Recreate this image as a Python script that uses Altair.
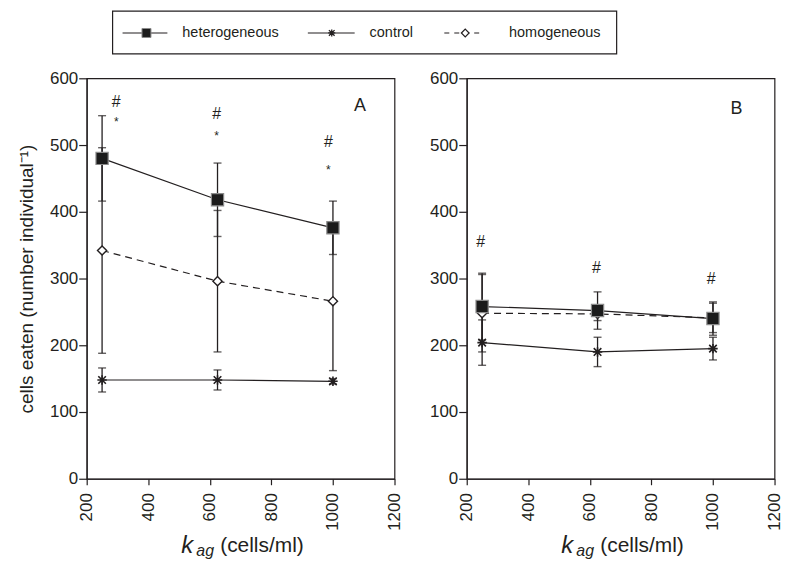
import altair as alt
import pandas as pd

# ---------------- data ----------------
kag = [250, 625, 1000]

a_het = [480, 418, 376]
a_het_err = [64, 55, 40]
a_con = [148, 148, 146]
a_con_err = [18, 15, 4]
a_hom = [342, 296, 266]
a_hom_err = [154, 106, 104]

b_het = [258, 252, 240]
b_het_err = [50, 28, 25]
b_con = [204, 190, 195]
b_con_err = [34, 22, 17]
b_hom = [248, 247, 241]
b_hom_err = [58, 10, 22]

# significance marks
a_mark_kag = [296, 622, 985]
a_hash_y = [565, 547, 504]
a_star_y = [538, 517, 465]
b_mark_kag = [245, 621, 994]
b_hash_y = [355, 315, 300]

panel_letters = ["A", "B"]
letter_kag = [1088, 1076]
letter_y = [559, 554]

legend_labels = ["heterogeneous", "control", "homogeneous"]
x_ticks = [200, 400, 600, 800, 1000, 1200]
y_ticks = [0, 100, 200, 300, 400, 500, 600]
y_title = "cells eaten (number individual\u207b\u00b9)"

INK = "#231f20"
FONT = "Liberation Sans"
STAR = "M-0.8,-0.8L0.8,0.8M-0.8,0.8L0.8,-0.8M0,-1L0,1M-1,0L1,0"
PW, PH = 309, 402


def sdf(vals, errs):
    return pd.DataFrame({
        "kag": kag,
        "value": vals,
        "lo": [v - e for v, e in zip(vals, errs)],
        "hi": [v + e for v, e in zip(vals, errs)],
    })


def panel(het, het_err, con, con_err, hom, hom_err, marks, letter, lk, ly, title):
    xaxis = alt.Axis(values=x_ticks, format="d", labelAngle=-90, title=None, grid=False,
                     tickSize=6, labelPadding=8, labelFontSize=17, labelFont=FONT,
                     labelColor=INK, tickColor=INK, domainColor=INK,
                     tickWidth=1.2, domainWidth=1.2)
    if title:
        yaxis = alt.Axis(values=y_ticks, title=y_title, grid=False, tickSize=8,
                         labelPadding=1, labelFontSize=17, labelFont=FONT,
                         labelColor=INK, tickColor=INK, domainColor=INK,
                         tickWidth=1.2, domainWidth=1.2, titleFont=FONT,
                         titleFontSize=19, titleFontWeight="normal",
                         titleColor=INK, titlePadding=12.6)
    else:
        yaxis = alt.Axis(values=y_ticks, title=None, grid=False, tickSize=8,
                         labelPadding=1, labelFontSize=17, labelFont=FONT,
                         labelColor=INK, tickColor=INK, domainColor=INK,
                         tickWidth=1.2, domainWidth=1.2)
    xs = alt.Scale(domain=[200, 1200], nice=False, zero=False)
    ys = alt.Scale(domain=[0, 600], nice=False)

    def X():
        return alt.X("kag:Q", scale=xs, axis=xaxis)

    def Y(f):
        return alt.Y(f"{f}:Q", scale=ys, axis=yaxis)

    dh, dc, dm = sdf(het, het_err), sdf(con, con_err), sdf(hom, hom_err)
    layers = []
    # lines
    layers.append(alt.Chart(dm).mark_line(color=INK, strokeWidth=1.2, strokeDash=[7, 5]).encode(x=X(), y=Y("value")))
    layers.append(alt.Chart(dh).mark_line(color=INK, strokeWidth=1.2).encode(x=X(), y=Y("value")))
    layers.append(alt.Chart(dc).mark_line(color=INK, strokeWidth=1.2).encode(x=X(), y=Y("value")))
    # error bars
    for d in (dm, dh, dc):
        layers.append(alt.Chart(d).mark_rule(color=INK, strokeWidth=1.3).encode(x=X(), y=Y("lo"), y2="hi"))
        layers.append(alt.Chart(d).mark_tick(color=INK, orient="horizontal", size=8, thickness=1.4).encode(x=X(), y=Y("lo")))
        layers.append(alt.Chart(d).mark_tick(color=INK, orient="horizontal", size=8, thickness=1.4).encode(x=X(), y=Y("hi")))
    # markers
    layers.append(alt.Chart(dm).mark_point(shape="diamond", size=85, filled=True, fill="white", stroke=INK, strokeWidth=1.4, opacity=1).encode(x=X(), y=Y("value")))
    layers.append(alt.Chart(dc).mark_point(shape=STAR, size=90, filled=False, stroke=INK, strokeWidth=1.6, opacity=1).encode(x=X(), y=Y("value")))
    layers.append(alt.Chart(dh).mark_point(shape="square", size=150, filled=True, fill="#1b1b1b", stroke="#8a8a8a", strokeWidth=1.2, opacity=1).encode(x=X(), y=Y("value")))
    # significance marks
    for sym, ys_list, fs, dy in marks:
        md = pd.DataFrame({"kag": ys_list[0], "value": ys_list[1], "t": [sym] * len(ys_list[0])})
        layers.append(alt.Chart(md).mark_text(font=FONT, fontSize=fs, color=INK, baseline="middle", dy=dy).encode(x=X(), y=Y("value"), text="t:N"))
    # panel letter
    ld = pd.DataFrame({"kag": [lk], "value": [ly], "t": [letter]})
    layers.append(alt.Chart(ld).mark_text(font=FONT, fontSize=18, color=INK, baseline="middle").encode(x=X(), y=Y("value"), text="t:N"))
    # x-axis title: italic k with subscript ag, then units
    one = pd.DataFrame({"d": [0]})
    layers.append(alt.Chart(one).mark_text(text="k", font=FONT, fontStyle="italic", fontSize=24, color=INK, align="left", baseline="alphabetic").encode(x=alt.value(95), y=alt.value(477)))
    layers.append(alt.Chart(one).mark_text(text="ag", font=FONT, fontStyle="italic", fontSize=16, color=INK, align="left", baseline="alphabetic").encode(x=alt.value(110), y=alt.value(480)))
    layers.append(alt.Chart(one).mark_text(text="(cells/ml)", font=FONT, fontSize=21, color=INK, align="left", baseline="alphabetic").encode(x=alt.value(134), y=alt.value(476)))
    return alt.layer(*layers).properties(width=PW, height=PH)


pA = panel(a_het, a_het_err, a_con, a_con_err, a_hom, a_hom_err,
           [("#", (a_mark_kag, a_hash_y), 16, 0), ("*", (a_mark_kag, a_star_y), 12, 2)],
           panel_letters[0], letter_kag[0], letter_y[0], True)
pB = panel(b_het, b_het_err, b_con, b_con_err, b_hom, b_hom_err,
           [("#", (b_mark_kag, b_hash_y), 16, 0)],
           panel_letters[1], letter_kag[1], letter_y[1], False)

# ---------------- legend (decoration) ----------------
one = pd.DataFrame({"d": [0]})
lb = alt.Chart(one)
ly = 22
leg_layers = [
    lb.mark_rect(fill="white", stroke=INK, strokeWidth=1.2).encode(x=alt.value(26), x2=alt.value(532), y=alt.value(0), y2=alt.value(43)),
    lb.mark_rule(color=INK, strokeWidth=1.2).encode(x=alt.value(36), x2=alt.value(81), y=alt.value(ly)),
    lb.mark_point(shape="square", size=81, filled=True, fill="#1b1b1b", stroke="#8a8a8a", strokeWidth=1, opacity=1).encode(x=alt.value(60), y=alt.value(ly)),
    lb.mark_text(text=legend_labels[0], font=FONT, fontSize=14.5, color=INK, align="left", baseline="middle").encode(x=alt.value(96), y=alt.value(ly)),
    lb.mark_rule(color=INK, strokeWidth=1.2).encode(x=alt.value(222), x2=alt.value(269), y=alt.value(ly)),
    lb.mark_point(shape=STAR, size=50, filled=False, stroke=INK, strokeWidth=1.3, opacity=1).encode(x=alt.value(246), y=alt.value(ly)),
    lb.mark_text(text=legend_labels[1], font=FONT, fontSize=14.5, color=INK, align="left", baseline="middle").encode(x=alt.value(284), y=alt.value(ly)),
    lb.mark_rule(color=INK, strokeWidth=1.2, strokeDash=[5, 5]).encode(x=alt.value(359), x2=alt.value(397), y=alt.value(ly)),
    lb.mark_point(shape="diamond", size=60, filled=True, fill="white", stroke=INK, strokeWidth=1.2, opacity=1).encode(x=alt.value(380), y=alt.value(ly)),
    lb.mark_text(text=legend_labels[2], font=FONT, fontSize=14.5, color=INK, align="left", baseline="middle").encode(x=alt.value(424), y=alt.value(ly)),
]
legend = alt.layer(*leg_layers).properties(width=560, height=43, view=alt.ViewBackground(stroke="transparent"))

chart = alt.vconcat(
    legend,
    alt.hconcat(pA, pB, spacing=25.5),
    spacing=12.5,
).properties(
    padding={"left": 9, "top": 0, "right": 0, "bottom": 0}
).configure_view(stroke=INK, strokeWidth=1.2)

chart.save("out.html", embed_options={"renderer": "svg", "actions": False})
